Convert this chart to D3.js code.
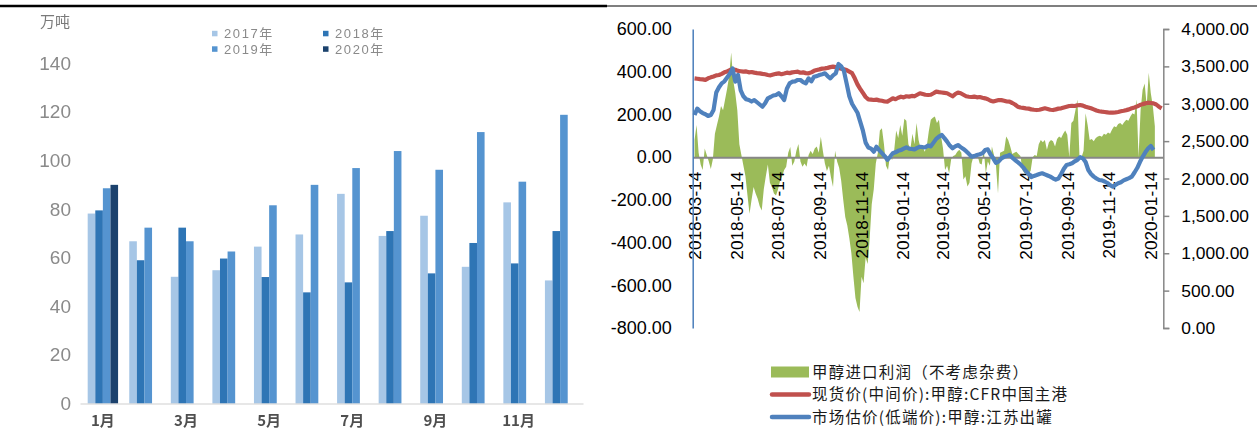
<!DOCTYPE html>
<html>
<head>
<meta charset="utf-8">
<script src="https://cdn.jsdelivr.net/npm/d3@7/dist/d3.min.js"></script>
<style>
  body { margin: 0; background: #fff; }
  svg { display: block; }
</style>
</head>
<body>
<svg id="chart" width="1257" height="438"></svg>
<script>
// ---------- Left panel: monthly volumes (万吨) ----------
const months = ['1月','2月','3月','4月','5月','6月','7月','8月','9月','10月','11月','12月'];
const monthTicks = ['1月','3月','5月','7月','9月','11月'];
const years = ['2017年','2018年','2019年','2020年'];
const vol2017 = [78.1, 66.7, 52.1, 54.8, 64.5, 69.5, 86.2, 68.9, 77.2, 56.2, 82.7, 50.6];
const vol2018 = [79.4, 58.9, 72.3, 59.6, 52.0, 45.7, 49.8, 70.9, 53.5, 66.0, 57.6, 70.9];
const vol2019 = [88.5, 72.3, 66.7, 62.5, 81.5, 89.9, 96.8, 103.8, 96.1, 111.6, 91.2, 118.7];
const vol2020 = [89.9];
const volTicks = [0, 20, 40, 60, 80, 100, 120, 140];
const yearColors = ['#a6c6e6', '#2e74b5', '#5594d0', '#1d426d'];

// ---------- Right panel: methanol import margin & prices ----------
const dateTicks = ['2018-03-14','2018-05-14','2018-07-14','2018-09-14','2018-11-14','2019-01-14',
                   '2019-03-14','2019-05-14','2019-07-14','2019-09-14','2019-11-14','2020-01-14'];
const marginTicks = [-800, -600, -400, -200, 0, 200, 400, 600];
const priceTicks = [0, 500, 1000, 1500, 2000, 2500, 3000, 3500, 4000];

// import margin, sampled every 3 days from 2018-03-14
const marginStart = '2018-03-14';
const marginStepDays = 3;
const margin = [
  80,150,20,-35,-60,40,10,-20,-55,-10,
  110,150,190,240,220,270,320,380,490,360,
  300,220,60,10,-40,-90,-180,-265,-200,-140,
  -170,-195,-230,-250,-150,-90,-35,-120,-140,-170,
  -180,-150,-110,-90,-60,-45,20,47,-40,-20,
  30,62,-20,-45,-30,-45,10,30,15,40,
  50,20,95,30,-30,-65,-40,-95,-140,30,
  -20,-50,-110,-200,-280,-320,-380,-450,-560,-660,
  -700,-725,-560,-590,-470,-500,-380,-220,-150,-30,
  20,125,135,60,-40,-60,10,-15,30,125,
  90,150,100,180,170,60,40,110,60,160,
  80,40,50,25,50,120,175,185,190,160,
  175,100,40,-60,-40,-75,-10,5,10,25,
  35,20,-105,-90,-138,-120,-30,5,10,5,
  -30,-35,35,-75,-20,-40,50,10,-40,-170,
  20,25,30,97,80,50,15,20,25,15,
  5,-60,-75,-70,-75,-65,0,10,5,60,
  80,70,80,35,70,80,75,50,85,97,
  90,110,125,105,0,160,170,220,270,0,
  0,30,205,150,80,85,75,90,97,100,
  95,110,105,115,110,130,145,140,155,160,
  150,165,175,170,190,205,200,270,0,220,
  315,345,240,395,300,240,145
];

// prices, sampled every 4 days from 2018-03-14
const priceStart = '2018-03-14';
const priceStepDays = 4;
const cfrPrice = [
  3340,3335,3330,3326,3320,3340,3353,3365,3380,3385,
  3400,3420,3432,3450,3461,3455,3440,3435,3429,3432,
  3420,3425,3416,3410,3407,3400,3395,3385,3380,3390,
  3400,3407,3395,3405,3416,3410,3420,3425,3429,3415,
  3420,3410,3407,3420,3440,3452,3460,3470,3474,3480,
  3490,3496,3490,3480,3470,3461,3450,3430,3410,3340,
  3260,3200,3145,3090,3059,3055,3050,3055,3045,3040,
  3030,3028,3050,3072,3060,3080,3094,3085,3100,3095,
  3105,3100,3120,3140,3130,3120,3117,3120,3140,3162,
  3155,3150,3145,3140,3120,3100,3130,3150,3140,3120,
  3100,3094,3090,3095,3086,3090,3080,3072,3060,3040,
  3030,3040,3050,3048,3040,3030,3028,3010,2990,2961,
  2950,2945,2939,2935,2925,2920,2916,2920,2930,2939,
  2930,2920,2916,2925,2935,2939,2950,2960,2970,2972,
  2970,2980,2983,2975,2960,2950,2939,2925,2910,2900,
  2894,2890,2885,2880,2882,2885,2890,2900,2907,2915,
  2925,2939,2950,2965,2983,2995,3005,3014,3010,3005,
  2990,2960,2939
];
const jiangsuPrice = [
  2850,2935,2900,2875,2860,2836,2850,2916,3150,3220,
  3273,3300,3350,3400,3474,3295,3385,3180,3100,3060,
  3050,3030,3050,3020,2990,2961,3006,3073,3090,3110,
  3117,3140,3100,3050,3200,3273,3295,3300,3318,3318,
  3290,3273,3340,3300,3362,3370,3385,3395,3407,3370,
  3340,3380,3407,3532,3500,3440,3273,3100,3000,2940,
  2880,2760,2640,2480,2415,2400,2359,2425,2380,2340,
  2300,2250,2290,2337,2350,2370,2381,2400,2417,2400,
  2395,2390,2410,2425,2420,2417,2440,2430,2480,2530,
  2560,2582,2540,2493,2440,2404,2430,2448,2420,2395,
  2365,2330,2292,2300,2315,2325,2337,2380,2390,2320,
  2270,2210,2230,2270,2290,2300,2315,2280,2248,2220,
  2190,2150,2100,2060,2020,2035,2047,2060,2070,2055,
  2040,2025,2003,1985,2000,2060,2130,2181,2190,2203,
  2230,2250,2285,2270,2220,2114,2060,2025,2000,1980,
  1975,1960,1940,1910,1891,1915,1936,1950,1975,1990,
  2005,2025,2080,2140,2220,2290,2350,2400,2435,2381
];
const legendLabels = ['甲醇进口利润（不考虑杂费）', '现货价(中间价):甲醇:CFR中国主港', '市场估价(低端价):甲醇:江苏出罐'];

const svg = d3.select('#chart');
const defs = svg.append('defs');
defs.append('filter').attr('id', 'soft').attr('x', '-5%').attr('y', '-5%').attr('width', '110%').attr('height', '110%')
  .append('feGaussianBlur').attr('stdDeviation', 0.7);

// page rules at the top
svg.append('line').attr('x1', 0).attr('x2', 607).attr('y1', 6).attr('y2', 6)
  .attr('stroke', '#000').attr('stroke-width', 2.6);
svg.append('line').attr('x1', 607).attr('x2', 1257).attr('y1', 6).attr('y2', 6)
  .attr('stroke', '#000').attr('stroke-width', 1.2);

// ================= Left panel =================
const L = svg.append('g').attr('filter', 'url(#soft)');
const xMonth = d3.scaleBand().domain(months).range([80, 583]).paddingInner(0.269).paddingOuter(0.185);
const xYear = d3.scaleBand().domain(years).range([0, xMonth.bandwidth()]);
const yVol = d3.scaleLinear().domain([0, 140]).range([403.5, 63]);

const volSeries = [vol2017, vol2018, vol2019, vol2020];
volSeries.forEach((vals, k) => {
  L.append('g').selectAll('rect')
    .data(vals.map((v, i) => ({ m: months[i], v })))
    .join('rect')
    .attr('x', d => xMonth(d.m) + xYear(years[k]))
    .attr('width', xYear.bandwidth())
    .attr('y', d => yVol(d.v))
    .attr('height', d => yVol(0) - yVol(d.v))
    .attr('fill', yearColors[k]);
});

const yAxisL = L.append('g').attr('transform', 'translate(71,0)')
  .call(d3.axisLeft(yVol).tickValues(volTicks).tickSize(0).tickPadding(0));
yAxisL.select('.domain').remove();
yAxisL.selectAll('text').attr('fill', '#8a8a8a').style('font', '19px "Liberation Sans", Arial, sans-serif');

const xAxisL = L.append('g').attr('transform', `translate(0,${yVol(0)})`)
  .call(d3.axisBottom(xMonth).tickValues(monthTicks).tickSize(0).tickSizeOuter(0).tickPadding(12));
xAxisL.select('.domain').attr('stroke', '#cfcfcf').attr('stroke-width', 1.2);
xAxisL.selectAll('text').attr('fill', '#505050')
  .style('font', 'bold 15px "Noto Sans CJK SC", "Liberation Sans", sans-serif');

L.append('text').attr('x', 40).attr('y', 21.5).attr('dy', '0.35em').text('万吨')
  .attr('fill', '#7a7a7a').style('font', '15px "Noto Sans CJK SC", sans-serif');

// legend (two rows x two columns)
const legPos = [[212, 33.5], [323, 33.5], [212, 49], [323, 49]];
years.forEach((name, k) => {
  const [lx, ly] = legPos[k];
  L.append('rect').attr('x', lx).attr('y', ly - 2.7).attr('width', 5.5).attr('height', 5.5).attr('fill', yearColors[k]);
  L.append('text').attr('x', lx + 12).attr('y', ly).attr('dy', '0.35em').text(name)
    .attr('fill', '#8a8a8a').style('font', '13px "Liberation Sans", "Noto Sans CJK SC", sans-serif')
    .style('letter-spacing', '1.6px');
});

// ================= Right panel =================
const R = svg.append('g');
const parse = d3.utcParse('%Y-%m-%d');
const xDate = d3.scaleUtc().domain([parse('2018-03-11'), parse('2020-02-02')]).range([692.5, 1163]);
const yMargin = d3.scaleLinear().domain([-800, 600]).range([328, 29]);
const yPrice = d3.scaleLinear().domain([0, 4000]).range([328, 29]);
const fmt = d3.formatLocale({ decimal: '.', thousands: ',', grouping: [3], currency: ['', ''], minus: '-' });

const marginData = margin.map((v, i) => ({ date: d3.utcDay.offset(parse(marginStart), i * marginStepDays), v }));
const cfrData = cfrPrice.map((v, i) => ({ date: d3.utcDay.offset(parse(priceStart), i * priceStepDays), v }));
const jsData = jiangsuPrice.map((v, i) => ({ date: d3.utcDay.offset(parse(priceStart), i * priceStepDays), v }));

// margin area
R.append('path').datum(marginData)
  .attr('d', d3.area().x(d => xDate(d.date)).y0(yMargin(0)).y1(d => yMargin(d.v)))
  .attr('fill', '#9bbb59');

// zero line / date axis
const xAxisR = R.append('g').attr('transform', `translate(0,${yMargin(0)})`)
  .call(d3.axisBottom(xDate).tickValues(dateTicks.map(parse)).tickFormat(d3.utcFormat('%Y-%m-%d'))
    .tickSize(0).tickSizeOuter(0));
xAxisR.select('.domain').attr('stroke', '#878787').attr('stroke-width', 2);
xAxisR.selectAll('text')
  .attr('transform', 'rotate(-90)')
  .attr('x', -14.6).attr('y', 0).attr('dy', '0.36em')
  .style('text-anchor', 'end')
  .attr('fill', '#000')
  .style('font', '17.2px "Liberation Sans", Arial, sans-serif');

// price lines
const priceLine = d3.line().x(d => xDate(d.date)).y(d => yPrice(d.v));
R.append('path').datum(cfrData).attr('d', priceLine)
  .attr('fill', 'none').attr('stroke', '#c0504d').attr('stroke-width', 4.2).attr('stroke-linejoin', 'round');
R.append('path').datum(jsData).attr('d', priceLine)
  .attr('fill', 'none').attr('stroke', '#4f81bd').attr('stroke-width', 4.2).attr('stroke-linejoin', 'round');

// left (margin) axis
const yAxisR1 = R.append('g').attr('transform', 'translate(692.7,0)')
  .call(d3.axisLeft(yMargin).tickValues(marginTicks).tickFormat(fmt.format('.2f'))
    .tickSize(0).tickSizeOuter(0).tickPadding(21));
yAxisR1.select('.domain').attr('stroke', '#4a7ebb').attr('stroke-width', 1.5);
yAxisR1.selectAll('text').attr('fill', '#000').style('font', '18px "Liberation Sans", Arial, sans-serif');

// right (price) axis
const yAxisR2 = R.append('g').attr('transform', 'translate(1163.3,0)')
  .call(d3.axisRight(yPrice).tickValues(priceTicks).tickFormat(fmt.format(',.2f'))
    .tickSize(6).tickSizeOuter(6).tickPadding(12));
yAxisR2.selectAll('.domain, line').attr('stroke', '#878787').attr('stroke-width', 1.5);
yAxisR2.selectAll('text').attr('fill', '#000').style('font', '17.4px "Liberation Sans", Arial, sans-serif');

// legend
const legY = [372, 394.5, 417];
R.append('rect').attr('x', 771).attr('y', legY[0] - 5.5).attr('width', 38).attr('height', 11).attr('fill', '#9bbb59');
R.append('line').attr('x1', 772).attr('x2', 809).attr('y1', legY[1]).attr('y2', legY[1])
  .attr('stroke', '#c0504d').attr('stroke-width', 4.5).attr('stroke-linecap', 'round');
R.append('line').attr('x1', 772).attr('x2', 809).attr('y1', legY[2]).attr('y2', legY[2])
  .attr('stroke', '#4f81bd').attr('stroke-width', 4.5).attr('stroke-linecap', 'round');
legendLabels.forEach((t, i) => {
  R.append('text').attr('x', 812).attr('y', legY[i]).attr('dy', '0.36em').text(t)
    .attr('fill', '#1a1a1a').style('font', '15.5px "Noto Sans CJK SC", sans-serif')
    .style('letter-spacing', '1.2px');
});
</script>
</body>
</html>
